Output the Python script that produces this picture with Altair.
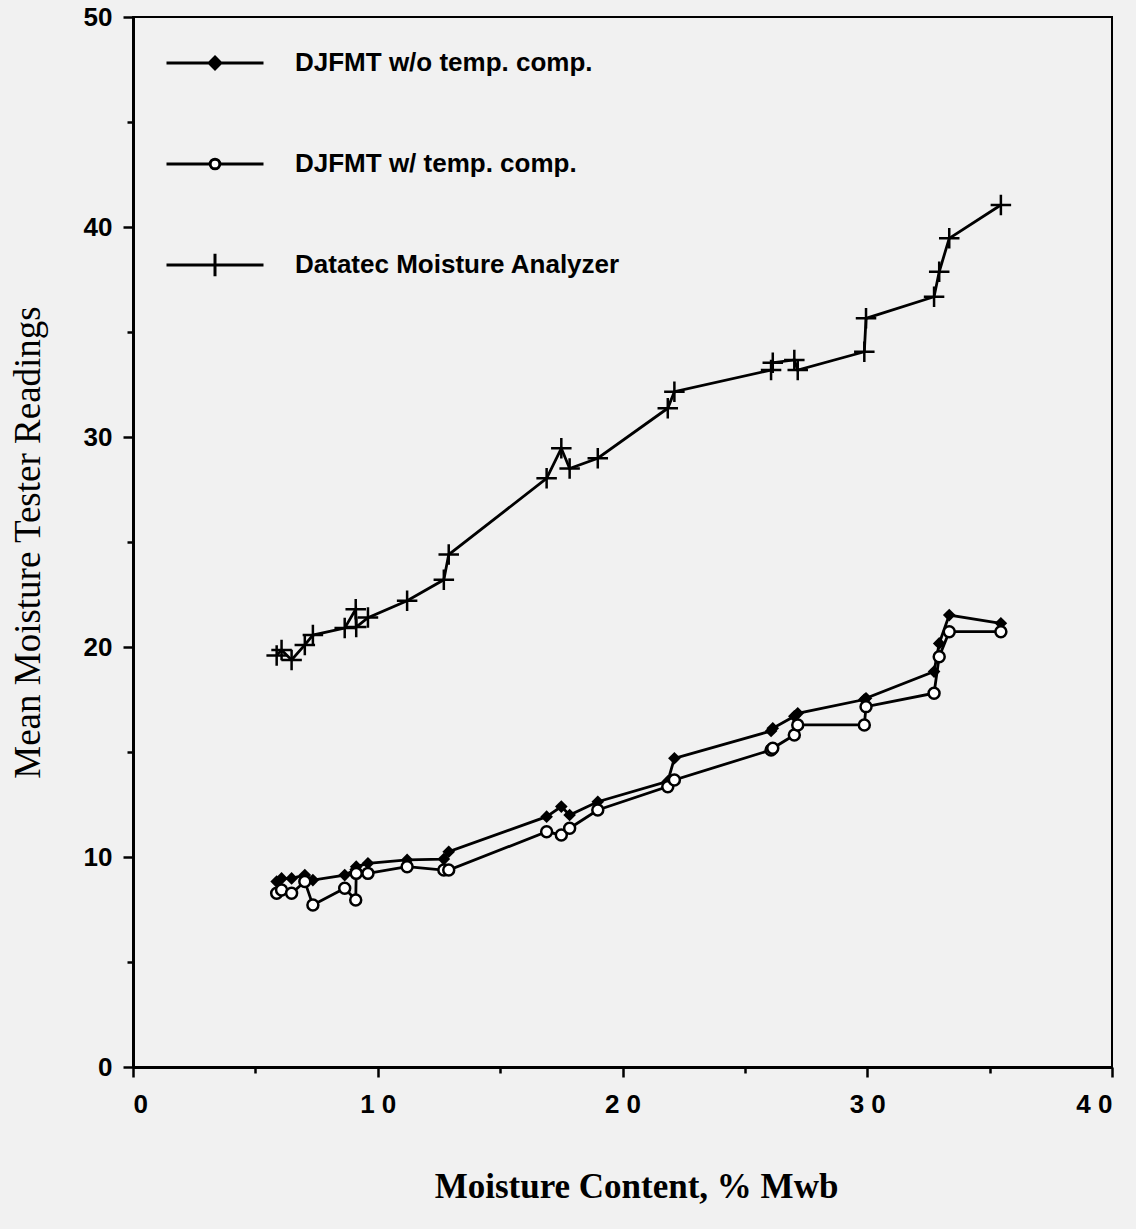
import altair as alt
import pandas as pd

# Moisture content (% wb) of each sample
moisture = [5.87, 6.07, 6.48, 7.02, 7.35, 8.65, 9.10, 9.12, 9.60, 11.20, 12.70, 12.90,
            16.90, 17.50, 17.84, 18.99, 21.85, 22.12, 26.07, 26.14, 27.02, 27.16,
            29.88, 29.95, 32.73, 32.94, 33.35, 35.46]
djfmt_wo = [8.83, 8.98, 8.98, 9.14, 8.90, 9.14, 9.40, 9.54, 9.70, 9.86, 9.90, 10.25,
            11.92, 12.40, 12.00, 12.63, 13.60, 14.70, 16.00, 16.13, 16.70, 16.84,
            17.50, 17.56, 18.83, 20.17, 21.52, 21.13]
djfmt_w = [8.27, 8.43, 8.27, 8.83, 7.71, 8.51, 7.95, 9.22, 9.22, 9.54, 9.38, 9.38,
           11.20, 11.05, 11.37, 12.24, 13.35, 13.67, 15.10, 15.18, 15.81, 16.29,
           16.29, 17.16, 17.80, 19.54, 20.73, 20.73]
datatec = [19.60, 19.86, 19.38, 20.10, 20.57, 20.90, 21.80, 20.95, 21.40, 22.20, 23.20, 24.40,
           28.03, 29.46, 28.50, 28.99, 31.37, 32.16, 33.19, 33.54, 33.67, 33.19,
           34.06, 35.65, 36.68, 37.87, 39.46, 41.05]

series_names = ["DJFMT w/o temp. comp.", "DJFMT w/ temp. comp.", "Datatec Moisture Analyzer"]
x_ticks = [0, 5, 10, 15, 20, 25, 30, 35, 40]
y_ticks = [0, 5, 10, 15, 20, 25, 30, 35, 40, 45, 50]

rows = []
for name, vals in zip(series_names, [djfmt_wo, djfmt_w, datatec]):
    for i, (mx, v) in enumerate(zip(moisture, vals)):
        rows.append({"series": name, "idx": i, "moisture": mx, "reading": v})
df = pd.DataFrame(rows)

LABEL_FONT = "Liberation Sans"
SERIF = "Liberation Serif"

x_enc = alt.X(
    "moisture:Q",
    scale=alt.Scale(domain=[0, 40], nice=False),
    axis=alt.Axis(
        values=x_ticks,
        labelExpr="datum.value % 10 == 0 ? (datum.value == 0 ? '0' : floor(datum.value / 10) + ' ' + (datum.value % 10)) : ''",
        tickSize={"condition": {"test": "datum.value % 10 == 0", "value": 10}, "value": 6},
        title="Moisture Content, % Mwb",
        titleFont=SERIF,
        titleFontSize=35,
        titleFontWeight="bold",
        titlePadding=52,
        titleX=503,
        labelPadding=14,
    ),
)
y_enc = alt.Y(
    "reading:Q",
    scale=alt.Scale(domain=[0, 50], nice=False),
    axis=alt.Axis(
        values=y_ticks,
        labelExpr="datum.value % 10 == 0 ? datum.label : ''",
        tickSize={"condition": {"test": "datum.value % 10 == 0", "value": 10}, "value": 6},
        title="Mean Moisture Tester Readings",
        titleFont=SERIF,
        titleFontSize=37,
        titleFontWeight="normal",
        titlePadding=36,
        labelPadding=11,
    ),
)

base = alt.Chart(df)

lines = base.mark_line(color="black", strokeWidth=2.8).encode(
    x=x_enc, y=y_enc, detail="series:N", order="idx:Q"
)

diamonds = base.transform_filter(alt.datum.series == series_names[0]).mark_point(
    shape="diamond", filled=True, color="black", size=160, opacity=1
).encode(x=x_enc, y=y_enc)

circles = base.transform_filter(alt.datum.series == series_names[1]).mark_point(
    shape="circle", filled=True, fill="white", stroke="black", strokeWidth=2.5, size=120, opacity=1
).encode(x=x_enc, y=y_enc)

plus_path = "M-1,0H1M0,-1V1"
pluses = base.transform_filter(alt.datum.series == series_names[2]).mark_point(
    shape=plus_path, filled=False, stroke="black", strokeWidth=2.5, size=420, opacity=1
).encode(x=x_enc, y=y_enc)

legend_paths = [
    "M-1,0H1M0,-0.12L0.12,0L0,0.12L-0.12,0Z",
    "M-1,0H-0.1M0.1,0H1M-0.1,0A0.1,0.1,0,1,0,0.1,0A0.1,0.1,0,1,0,-0.1,0Z",
    "M-1,0H1M0,-0.23V0.23",
]
legend_def = alt.Legend(
    orient="none",
    legendX=32,
    legendY=-4,
    title=None,
    symbolSize=9409,
    symbolStrokeWidth=3,
    labelFont=LABEL_FONT,
    labelFontSize=26,
    labelFontWeight="bold",
    labelColor="black",
    labelOffset=30,
    labelLimit=600,
    rowPadding=38,
    padding=0,
)
legend_layer = base.transform_filter("false").mark_point(
    filled=True, strokeWidth=3, opacity=1
).encode(
    shape=alt.Shape("series:N", scale=alt.Scale(domain=series_names, range=legend_paths), legend=legend_def),
    fill=alt.Fill("series:N", scale=alt.Scale(domain=series_names, range=["black", "white", "transparent"]), legend=legend_def),
    stroke=alt.Stroke("series:N", scale=alt.Scale(domain=series_names, range=["black", "black", "black"]), legend=legend_def),
)

chart = alt.layer(lines, diamonds, circles, pluses, legend_layer).properties(
    width=979,
    height=1050,
    autosize=alt.AutoSizeParams(type="none"),
    padding={"left": 133, "top": 17, "right": 24, "bottom": 162},
    background="#f1f1f1",
).configure_view(
    stroke="black", strokeWidth=2
).configure_axis(
    grid=False,
    domainColor="black",
    domainWidth=3,
    tickColor="black",
    tickWidth=2.5,
    labelFont=LABEL_FONT,
    labelFontSize=26,
    labelFontWeight="bold",
    labelColor="black",
    titleColor="black",
)

chart.save("out.html", embed_options={"renderer": "svg", "actions": False})
